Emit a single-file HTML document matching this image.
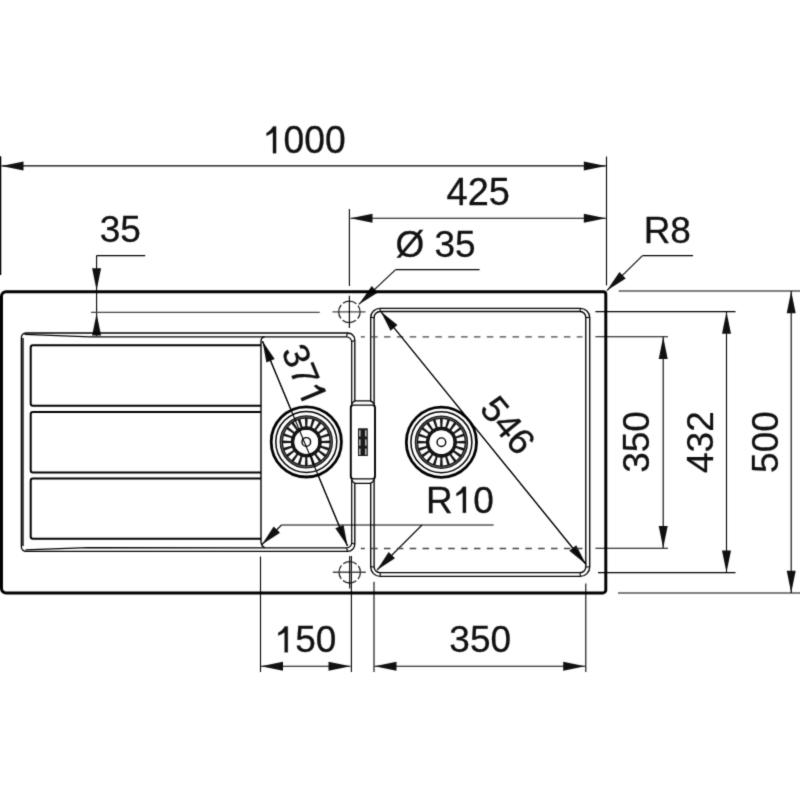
<!DOCTYPE html>
<html><head><meta charset="utf-8"><style>
html,body{margin:0;padding:0;background:#fff;}
svg{display:block;font-family:"Liberation Sans",sans-serif;}
</style></head><body>
<svg width="800" height="800" viewBox="0 0 800 800">
<defs><filter id="soft" color-interpolation-filters="sRGB" x="0" y="0" width="800" height="800" filterUnits="userSpaceOnUse"><feConvolveMatrix order="3" kernelMatrix="0.01904 0.09991 0.01904 0.09991 0.52418 0.09991 0.01904 0.09991 0.01904" divisor="1" edgeMode="duplicate" preserveAlpha="false"/></filter></defs>
<g filter="url(#soft)">
<rect width="800" height="800" fill="#fff"/>
<line x1="0.60" y1="156.20" x2="0.60" y2="275.00" stroke="#000" stroke-width="1.3" />
<line x1="606.50" y1="156.50" x2="606.50" y2="285.50" stroke="#000" stroke-width="1.1" />
<line x1="1.50" y1="165.90" x2="605.80" y2="165.90" stroke="#000" stroke-width="1.1" />
<polygon points="1.50,165.90 23.50,161.40 23.50,170.40" fill="#111"/>
<polygon points="605.80,165.90 583.80,170.40 583.80,161.40" fill="#111"/>
<g transform="translate(305.40,139.95) scale(0.37245,0.38200) translate(-114.28,34.51)" fill="#111" stroke="#111" stroke-width="0.8"><path transform="translate(0.00,0) scale(100)" stroke-width="0.008" d="M0.356,0 L0.272,0 L0.272,-0.545 Q0.19,-0.49 0.10,-0.455 L0.10,-0.53 Q0.20,-0.57 0.275,-0.70 L0.356,-0.70 Z"/><text x="55.62" y="0" font-size="100">0</text><text x="111.23" y="0" font-size="100">0</text><text x="166.85" y="0" font-size="100">0</text></g>
<line x1="349.40" y1="209.00" x2="349.40" y2="286.00" stroke="#000" stroke-width="1.1" />
<line x1="350.50" y1="218.30" x2="605.80" y2="218.30" stroke="#000" stroke-width="1.1" />
<polygon points="350.50,218.30 372.50,213.80 372.50,222.80" fill="#111"/>
<polygon points="605.80,218.30 583.80,222.80 583.80,213.80" fill="#111"/>
<g transform="translate(477.90,191.75) scale(0.38000,0.38000) translate(-82.47,34.42)" fill="#111" stroke="#111" stroke-width="0.8"><text x="0.00" y="0" font-size="100">4</text><text x="55.62" y="0" font-size="100">2</text><text x="111.23" y="0" font-size="100">5</text></g>
<line x1="96.60" y1="255.60" x2="145.20" y2="255.60" stroke="#000" stroke-width="1.1" />
<line x1="96.60" y1="255.60" x2="96.60" y2="336.00" stroke="#000" stroke-width="1.1" />
<polygon points="96.60,290.20 92.10,268.20 101.10,268.20" fill="#111"/>
<polygon points="96.60,313.60 101.10,335.60 92.10,335.60" fill="#111"/>
<g transform="translate(120.20,229.70) scale(0.37000,0.37000) translate(-55.42,34.42)" fill="#111" stroke="#111" stroke-width="0.8"><text x="0.00" y="0" font-size="100">3</text><text x="55.62" y="0" font-size="100">5</text></g>
<line x1="91.00" y1="312.40" x2="319.80" y2="312.40" stroke="#444" stroke-width="1.4" />
<line x1="395.60" y1="269.60" x2="479.60" y2="269.60" stroke="#000" stroke-width="1.1" />
<line x1="395.60" y1="269.60" x2="358.80" y2="304.40" stroke="#000" stroke-width="1.1" />
<polygon points="358.80,304.40 371.69,286.01 377.88,292.55" fill="#111"/>
<g transform="translate(435.40,244.50) scale(0.37000,0.37000) translate(-108.03,34.50)" fill="#111" stroke="#111" stroke-width="0.8"><text x="0.00" y="0" font-size="100">Ø</text><text x="105.57" y="0" font-size="100">3</text><text x="161.18" y="0" font-size="100">5</text></g>
<line x1="642.50" y1="255.60" x2="693.10" y2="255.60" stroke="#000" stroke-width="1.1" />
<line x1="642.50" y1="255.60" x2="606.90" y2="290.60" stroke="#000" stroke-width="1.1" />
<polygon points="606.90,290.60 619.43,271.97 625.74,278.39" fill="#111"/>
<g transform="translate(668.00,230.60) scale(0.37000,0.37000) translate(-65.84,34.42)" fill="#111" stroke="#111" stroke-width="0.8"><text x="0.00" y="0" font-size="100">R</text><text x="72.22" y="0" font-size="100">8</text></g>
<line x1="618.70" y1="291.00" x2="800.00" y2="291.00" stroke="#000" stroke-width="1.1" />
<line x1="595.40" y1="311.60" x2="735.50" y2="311.60" stroke="#000" stroke-width="1.1" />
<line x1="595.40" y1="336.70" x2="668.00" y2="336.70" stroke="#000" stroke-width="1.1" />
<line x1="595.40" y1="548.30" x2="668.00" y2="548.30" stroke="#000" stroke-width="1.1" />
<line x1="598.00" y1="572.60" x2="735.50" y2="572.60" stroke="#000" stroke-width="1.1" />
<line x1="618.00" y1="593.00" x2="800.00" y2="593.00" stroke="#000" stroke-width="1.1" />
<line x1="663.20" y1="336.70" x2="663.20" y2="548.30" stroke="#000" stroke-width="1.1" />
<polygon points="663.20,336.90 667.70,358.90 658.70,358.90" fill="#111"/>
<polygon points="663.20,548.10 658.70,526.10 667.70,526.10" fill="#111"/>
<line x1="726.50" y1="311.60" x2="726.50" y2="572.60" stroke="#000" stroke-width="1.1" />
<polygon points="726.50,311.80 731.00,333.80 722.00,333.80" fill="#111"/>
<polygon points="726.50,572.40 722.00,550.40 731.00,550.40" fill="#111"/>
<line x1="791.20" y1="291.00" x2="791.20" y2="593.00" stroke="#000" stroke-width="1.1" />
<polygon points="791.20,291.20 795.70,313.20 786.70,313.20" fill="#111"/>
<polygon points="791.20,592.80 786.70,570.80 795.70,570.80" fill="#111"/>
<g transform="translate(636.25,442.00) rotate(-90.00) scale(0.37000,0.37000) translate(-83.37,34.42)" fill="#111" stroke="#111" stroke-width="0.8"><text x="0.00" y="0" font-size="100">3</text><text x="55.62" y="0" font-size="100">5</text><text x="111.23" y="0" font-size="100">0</text></g>
<g transform="translate(700.15,442.65) rotate(-90.00) scale(0.37000,0.37000) translate(-82.06,34.42)" fill="#111" stroke="#111" stroke-width="0.8"><text x="0.00" y="0" font-size="100">4</text><text x="55.62" y="0" font-size="100">3</text><text x="111.23" y="0" font-size="100">2</text></g>
<g transform="translate(765.00,442.00) rotate(-90.00) scale(0.37000,0.37000) translate(-83.47,34.42)" fill="#111" stroke="#111" stroke-width="0.8"><text x="0.00" y="0" font-size="100">5</text><text x="55.62" y="0" font-size="100">0</text><text x="111.23" y="0" font-size="100">0</text></g>
<line x1="260.50" y1="556.50" x2="260.50" y2="672.00" stroke="#000" stroke-width="1.1" />
<line x1="351.40" y1="556.00" x2="351.40" y2="672.00" stroke="#000" stroke-width="1.1" />
<line x1="374.00" y1="581.70" x2="374.00" y2="672.00" stroke="#000" stroke-width="1.1" />
<line x1="585.80" y1="583.40" x2="585.80" y2="672.00" stroke="#000" stroke-width="1.1" />
<line x1="261.00" y1="666.20" x2="350.50" y2="666.20" stroke="#000" stroke-width="1.1" />
<polygon points="261.00,666.20 283.00,661.70 283.00,670.70" fill="#111"/>
<polygon points="350.50,666.20 328.50,670.70 328.50,661.70" fill="#111"/>
<line x1="374.50" y1="666.20" x2="585.20" y2="666.20" stroke="#000" stroke-width="1.1" />
<polygon points="374.50,666.20 396.50,661.70 396.50,670.70" fill="#111"/>
<polygon points="585.20,666.20 563.20,670.70 563.20,661.70" fill="#111"/>
<g transform="translate(306.60,639.60) scale(0.37000,0.37000) translate(-86.47,34.51)" fill="#111" stroke="#111" stroke-width="0.8"><path transform="translate(0.00,0) scale(100)" stroke-width="0.008" d="M0.356,0 L0.272,0 L0.272,-0.545 Q0.19,-0.49 0.10,-0.455 L0.10,-0.53 Q0.20,-0.57 0.275,-0.70 L0.356,-0.70 Z"/><text x="55.62" y="0" font-size="100">5</text><text x="111.23" y="0" font-size="100">0</text></g>
<g transform="translate(480.20,639.35) scale(0.37000,0.37000) translate(-83.37,34.42)" fill="#111" stroke="#111" stroke-width="0.8"><text x="0.00" y="0" font-size="100">3</text><text x="55.62" y="0" font-size="100">5</text><text x="111.23" y="0" font-size="100">0</text></g>
<line x1="262.50" y1="341.30" x2="347.50" y2="546.00" stroke="#000" stroke-width="1.1" />
<polygon points="262.50,341.30 274.71,358.97 266.40,362.42" fill="#111"/>
<polygon points="347.50,546.00 335.29,528.33 343.60,524.88" fill="#111"/>
<g transform="translate(303.60,371.80) rotate(67.45) scale(0.37000,0.37000) translate(-75.32,34.51)" fill="#111" stroke="#111" stroke-width="0.8"><text x="0.00" y="0" font-size="100">3</text><text x="55.62" y="0" font-size="100">7</text><path transform="translate(111.23,0) scale(100)" stroke-width="0.008" d="M0.356,0 L0.272,0 L0.272,-0.545 Q0.19,-0.49 0.10,-0.455 L0.10,-0.53 Q0.20,-0.57 0.275,-0.70 L0.356,-0.70 Z"/></g>
<line x1="380.80" y1="311.50" x2="586.00" y2="564.30" stroke="#000" stroke-width="1.1" />
<polygon points="380.80,311.50 397.53,324.97 390.54,330.64" fill="#111"/>
<polygon points="586.00,564.30 569.27,550.83 576.26,545.16" fill="#111"/>
<g transform="translate(507.80,425.10) rotate(50.93) scale(0.37000,0.37000) translate(-83.23,34.42)" fill="#111" stroke="#111" stroke-width="0.8"><text x="0.00" y="0" font-size="100">5</text><text x="55.62" y="0" font-size="100">4</text><text x="111.23" y="0" font-size="100">6</text></g>
<line x1="281.50" y1="525.00" x2="493.60" y2="525.00" stroke="#000" stroke-width="1.1" />
<line x1="281.50" y1="525.00" x2="262.00" y2="544.50" stroke="#000" stroke-width="1.1" />
<polygon points="262.00,544.50 273.67,526.47 280.03,532.83" fill="#111"/>
<line x1="422.00" y1="525.00" x2="377.00" y2="570.00" stroke="#000" stroke-width="1.1" />
<polygon points="377.00,570.00 388.67,551.97 395.03,558.33" fill="#111"/>
<g transform="translate(460.80,500.00) scale(0.37000,0.37000) translate(-93.87,34.51)" fill="#111" stroke="#111" stroke-width="0.8"><text x="0.00" y="0" font-size="100">R</text><path transform="translate(72.22,0) scale(100)" stroke-width="0.008" d="M0.356,0 L0.272,0 L0.272,-0.545 Q0.19,-0.49 0.10,-0.455 L0.10,-0.53 Q0.20,-0.57 0.275,-0.70 L0.356,-0.70 Z"/><text x="127.83" y="0" font-size="100">0</text></g>
<path d="M6.0,291.75 L603.3,291.75 A2.5,2.5 0 0 1 605.8,294.25 L605.8,589.9 A3,3 0 0 1 602.8,592.9 L6.0,592.9 A4.5,4.5 0 0 1 1.5,588.4 L1.5,296.25 A4.5,4.5 0 0 1 6.0,291.75 Z" fill="none" stroke="#000" stroke-width="2.95"/>
<path d="M25.9,333.0 L347.8,333.0 A7,7 0 0 1 354.8,340.0 L354.8,544.3 A7,7 0 0 1 347.8,551.3 L25.9,551.3 A4.5,4.5 0 0 1 21.4,546.8 L21.4,337.5 A4.5,4.5 0 0 1 25.9,333.0 Z" fill="none" stroke="#000" stroke-width="1.35"/>
<line x1="23.0" y1="338" x2="23.0" y2="546" stroke="#000" stroke-width="1.4"/>
<path d="M24.5,334.3 L90,336.8 L346.5,336.8 A5.2,5.2 0 0 1 351.7,342.0 L351.7,542.7 A5.2,5.2 0 0 1 346.5,547.9 L88,547.7 L25.5,549.8" fill="none" stroke="#000" stroke-width="1.25"/>
<line x1="346.5" y1="336.6" x2="347.6" y2="333.0" stroke="#000" stroke-width="1.1"/>
<line x1="351.6" y1="341.8" x2="354.7" y2="340.2" stroke="#000" stroke-width="1.1"/>
<line x1="351.6" y1="543.0" x2="354.7" y2="544.2" stroke="#000" stroke-width="1.1"/>
<line x1="346.5" y1="548.0" x2="347.6" y2="551.2" stroke="#000" stroke-width="1.1"/>
<path d="M264.5,336.9 Q261,337.5 261,341 L261,541 Q261,546 264.5,547.5" fill="none" stroke="#000" stroke-width="1.4"/>
<path d="M261,345.3 L33,345.3 Q30.7,345.3 30.7,347.6 L30.7,403.5 Q30.7,405.8 33,405.8 L261,405.8" fill="none" stroke="#000" stroke-width="2.0"/>
<path d="M261,412.0 L33,412.0 Q30.7,412.0 30.7,414.3 L30.7,470.3 Q30.7,472.6 33,472.6 L261,472.6" fill="none" stroke="#000" stroke-width="2.0"/>
<path d="M261,478.6 L33,478.6 Q30.7,478.6 30.7,480.90000000000003 L30.7,536.5 Q30.7,538.8 33,538.8 L261,538.8" fill="none" stroke="#000" stroke-width="2.0"/>
<path d="M380.2,308.35 L580.2,308.35 A9.5,9.15 0 0 1 589.7,317.5 L589.7,566.9 A9.5,9.5 0 0 1 580.2,576.4 L380.2,576.4 A9.5,9.5 0 0 1 370.7,566.9 L370.7,317.5 A9.5,9.15 0 0 1 380.2,308.35 Z" fill="none" stroke="#000" stroke-width="1.35"/>
<path d="M380.2,311.5 L580.2,311.5 A5.6,6 0 0 1 585.8,317.5 L585.8,566.9 A5.6,5.7 0 0 1 580.2,572.6 L380.2,572.6 A6.1,5.7 0 0 1 374.1,566.9 L374.1,317.5 A6.1,6 0 0 1 380.2,311.5 Z" fill="none" stroke="#000" stroke-width="1.35"/>
<line x1="370.7" y1="317.5" x2="374.1" y2="317.5" stroke="#000" stroke-width="1.1"/>
<line x1="380.2" y1="308.35" x2="380.2" y2="311.5" stroke="#000" stroke-width="1.1"/>
<line x1="580.2" y1="308.35" x2="580.2" y2="311.5" stroke="#000" stroke-width="1.1"/>
<line x1="585.8" y1="317.5" x2="589.7" y2="317.5" stroke="#000" stroke-width="1.1"/>
<line x1="585.8" y1="566.9" x2="589.7" y2="566.9" stroke="#000" stroke-width="1.1"/>
<line x1="580.2" y1="572.6" x2="580.2" y2="576.4" stroke="#000" stroke-width="1.1"/>
<line x1="370.7" y1="566.9" x2="374.1" y2="566.9" stroke="#000" stroke-width="1.1"/>
<line x1="380.2" y1="572.6" x2="380.2" y2="576.4" stroke="#000" stroke-width="1.1"/>
<line x1="360.8" y1="336.9" x2="582.5" y2="336.9" stroke="#444" stroke-width="1.35" stroke-dasharray="6.5 6.35" stroke-dashoffset="2.5"/>
<line x1="360.8" y1="548.5" x2="582.5" y2="548.5" stroke="#444" stroke-width="1.35" stroke-dasharray="6.5 6.35" stroke-dashoffset="2.5"/>
<circle cx="349.4" cy="311.9" r="10.7" fill="none" stroke="#222" stroke-width="1.3" stroke-dasharray="14.38 2.43" stroke-dashoffset="7.19"/>
<line x1="332.50" y1="311.90" x2="365.50" y2="311.90" stroke="#444" stroke-width="1.4" />
<line x1="349.40" y1="295.70" x2="349.40" y2="328.00" stroke="#000" stroke-width="1.15" />
<circle cx="349.7" cy="572.3" r="10.7" fill="none" stroke="#222" stroke-width="1.3" stroke-dasharray="14.38 2.43" stroke-dashoffset="7.19"/>
<line x1="332.80" y1="572.30" x2="365.80" y2="572.30" stroke="#444" stroke-width="1.4" />
<line x1="349.70" y1="556.10" x2="349.70" y2="588.40" stroke="#000" stroke-width="1.15" />
<rect x="350.8" y="404.7" width="24.2" height="74.6" rx="3" fill="#fff" stroke="#000" stroke-width="1.9"/>
<path d="M351.5,404.5 Q353,401 355.5,400.8 L369.8,400.8 Q372.5,401 374.2,404.5" fill="#fff" stroke="#000" stroke-width="1.2"/>
<path d="M351.5,479.5 Q353,483 355.5,483.3 L369.8,483.3 Q372.5,483 374.2,479.5" fill="#fff" stroke="#000" stroke-width="1.2"/>
<rect x="358" y="428.3" width="9.8" height="27.7" fill="#1a1a1a"/>
<rect x="359.1" y="430.2" width="1.4" height="6.3" fill="#cfcfcf"/>
<rect x="365.1" y="430.2" width="1.4" height="6.3" fill="#cfcfcf"/>
<rect x="359.1" y="439.4" width="1.4" height="6.3" fill="#cfcfcf"/>
<rect x="365.1" y="439.4" width="1.4" height="6.3" fill="#cfcfcf"/>
<rect x="359.1" y="448.6" width="1.4" height="6.3" fill="#cfcfcf"/>
<rect x="365.1" y="448.6" width="1.4" height="6.3" fill="#cfcfcf"/>
<circle cx="441.4" cy="442.2" r="35.1" fill="#fff" stroke="#000" stroke-width="2.8"/>
<circle cx="441.4" cy="442.2" r="30.5" fill="none" stroke="#000" stroke-width="1.5"/>
<circle cx="441.4" cy="442.2" r="19.25" fill="none" stroke="#151515" stroke-width="14.9"/>
<circle cx="441.4" cy="442.2" r="25.0" fill="none" stroke="#707070" stroke-width="0.9"/>
<g transform="translate(441.4,442.2)" fill="#fff"><polygon points="15.5,-1.45 23.2,-2.3 23.2,2.3 15.5,1.45" transform="rotate(9.00)"/><polygon points="15.5,-1.45 23.2,-2.3 23.2,2.3 15.5,1.45" transform="rotate(27.00)"/><polygon points="15.5,-1.45 23.2,-2.3 23.2,2.3 15.5,1.45" transform="rotate(45.00)"/><polygon points="15.5,-1.45 23.2,-2.3 23.2,2.3 15.5,1.45" transform="rotate(63.00)"/><polygon points="15.5,-1.45 23.2,-2.3 23.2,2.3 15.5,1.45" transform="rotate(81.00)"/><polygon points="15.5,-1.45 23.2,-2.3 23.2,2.3 15.5,1.45" transform="rotate(99.00)"/><polygon points="15.5,-1.45 23.2,-2.3 23.2,2.3 15.5,1.45" transform="rotate(117.00)"/><polygon points="15.5,-1.45 23.2,-2.3 23.2,2.3 15.5,1.45" transform="rotate(135.00)"/><polygon points="15.5,-1.45 23.2,-2.3 23.2,2.3 15.5,1.45" transform="rotate(153.00)"/><polygon points="15.5,-1.45 23.2,-2.3 23.2,2.3 15.5,1.45" transform="rotate(171.00)"/><polygon points="15.5,-1.45 23.2,-2.3 23.2,2.3 15.5,1.45" transform="rotate(189.00)"/><polygon points="15.5,-1.45 23.2,-2.3 23.2,2.3 15.5,1.45" transform="rotate(207.00)"/><polygon points="15.5,-1.45 23.2,-2.3 23.2,2.3 15.5,1.45" transform="rotate(225.00)"/><polygon points="15.5,-1.45 23.2,-2.3 23.2,2.3 15.5,1.45" transform="rotate(243.00)"/><polygon points="15.5,-1.45 23.2,-2.3 23.2,2.3 15.5,1.45" transform="rotate(261.00)"/><polygon points="15.5,-1.45 23.2,-2.3 23.2,2.3 15.5,1.45" transform="rotate(279.00)"/><polygon points="15.5,-1.45 23.2,-2.3 23.2,2.3 15.5,1.45" transform="rotate(297.00)"/><polygon points="15.5,-1.45 23.2,-2.3 23.2,2.3 15.5,1.45" transform="rotate(315.00)"/><polygon points="15.5,-1.45 23.2,-2.3 23.2,2.3 15.5,1.45" transform="rotate(333.00)"/><polygon points="15.5,-1.45 23.2,-2.3 23.2,2.3 15.5,1.45" transform="rotate(351.00)"/></g>
<circle cx="441.4" cy="442.2" r="11.8" fill="#fff"/>
<circle cx="441.4" cy="442.2" r="4.3" fill="none" stroke="#000" stroke-width="1.4"/>
<circle cx="306.3" cy="441.9" r="35.1" fill="#fff" stroke="#000" stroke-width="2.8"/>
<circle cx="306.3" cy="441.9" r="30.5" fill="none" stroke="#000" stroke-width="1.5"/>
<circle cx="306.3" cy="441.9" r="19.25" fill="none" stroke="#151515" stroke-width="14.9"/>
<circle cx="306.3" cy="441.9" r="25.0" fill="none" stroke="#707070" stroke-width="0.9"/>
<g transform="translate(306.3,441.9)" fill="#fff"><polygon points="15.5,-1.45 23.2,-2.3 23.2,2.3 15.5,1.45" transform="rotate(9.00)"/><polygon points="15.5,-1.45 23.2,-2.3 23.2,2.3 15.5,1.45" transform="rotate(27.00)"/><polygon points="15.5,-1.45 23.2,-2.3 23.2,2.3 15.5,1.45" transform="rotate(45.00)"/><polygon points="15.5,-1.45 23.2,-2.3 23.2,2.3 15.5,1.45" transform="rotate(63.00)"/><polygon points="15.5,-1.45 23.2,-2.3 23.2,2.3 15.5,1.45" transform="rotate(81.00)"/><polygon points="15.5,-1.45 23.2,-2.3 23.2,2.3 15.5,1.45" transform="rotate(99.00)"/><polygon points="15.5,-1.45 23.2,-2.3 23.2,2.3 15.5,1.45" transform="rotate(117.00)"/><polygon points="15.5,-1.45 23.2,-2.3 23.2,2.3 15.5,1.45" transform="rotate(135.00)"/><polygon points="15.5,-1.45 23.2,-2.3 23.2,2.3 15.5,1.45" transform="rotate(153.00)"/><polygon points="15.5,-1.45 23.2,-2.3 23.2,2.3 15.5,1.45" transform="rotate(171.00)"/><polygon points="15.5,-1.45 23.2,-2.3 23.2,2.3 15.5,1.45" transform="rotate(189.00)"/><polygon points="15.5,-1.45 23.2,-2.3 23.2,2.3 15.5,1.45" transform="rotate(207.00)"/><polygon points="15.5,-1.45 23.2,-2.3 23.2,2.3 15.5,1.45" transform="rotate(225.00)"/><polygon points="15.5,-1.45 23.2,-2.3 23.2,2.3 15.5,1.45" transform="rotate(243.00)"/><polygon points="15.5,-1.45 23.2,-2.3 23.2,2.3 15.5,1.45" transform="rotate(261.00)"/><polygon points="15.5,-1.45 23.2,-2.3 23.2,2.3 15.5,1.45" transform="rotate(279.00)"/><polygon points="15.5,-1.45 23.2,-2.3 23.2,2.3 15.5,1.45" transform="rotate(297.00)"/><polygon points="15.5,-1.45 23.2,-2.3 23.2,2.3 15.5,1.45" transform="rotate(315.00)"/><polygon points="15.5,-1.45 23.2,-2.3 23.2,2.3 15.5,1.45" transform="rotate(333.00)"/><polygon points="15.5,-1.45 23.2,-2.3 23.2,2.3 15.5,1.45" transform="rotate(351.00)"/></g>
<circle cx="306.3" cy="441.9" r="11.8" fill="#fff"/>
<circle cx="306.3" cy="441.9" r="4.3" fill="none" stroke="#000" stroke-width="1.4"/>
<line x1="262.50" y1="341.30" x2="347.50" y2="546.00" stroke="#000" stroke-width="1.1" />
<line x1="380.80" y1="311.50" x2="586.00" y2="564.30" stroke="#000" stroke-width="1.1" />
</g>
</svg></body></html>
